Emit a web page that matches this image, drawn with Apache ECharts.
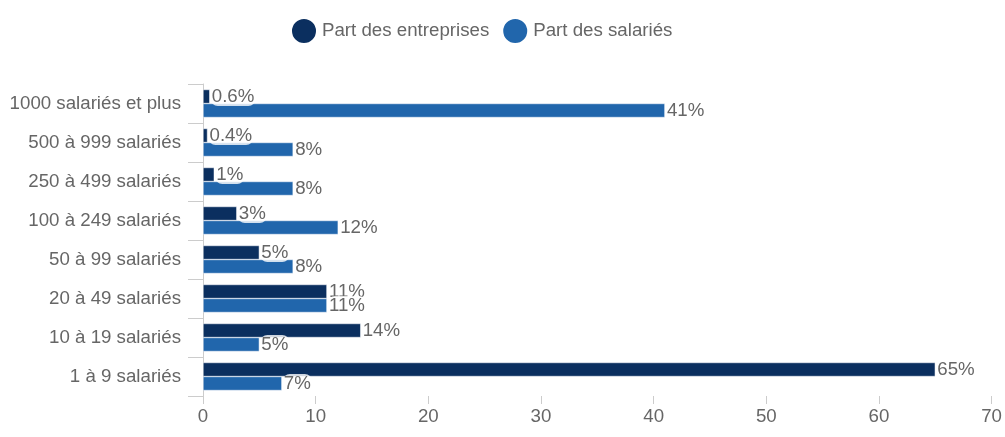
<!DOCTYPE html>
<html>
<head>
<meta charset="utf-8">
<script src="https://cdn.jsdelivr.net/npm/echarts@6/dist/echarts.min.js"></script>
<style>
  html, body { margin: 0; padding: 0; background: #fff; }
  #chart { width: 1005px; height: 437px; }
</style>
</head>
<body>
<div id="chart"></div>
<script>
// tranches de taille, de haut en bas
const categories = [
  '1000 salariés et plus',
  '500 à 999 salariés',
  '250 à 499 salariés',
  '100 à 249 salariés',
  '50 à 99 salariés',
  '20 à 49 salariés',
  '10 à 19 salariés',
  '1 à 9 salariés'
]
const partEntreprises = [0.6, 0.4, 1, 3, 5, 11, 14, 65]
const partSalaries = [41, 8, 8, 12, 8, 11, 5, 7]
const xTicks = { min: 0, max: 70, interval: 10 }

const font = '"Liberation Sans", Arial, sans-serif'
const size = 18.7

const labelStyle = {
  show: true,
  position: 'right',
  distance: 1,
  formatter: p => p.value + '%',
  color: '#666',
  fontSize: size,
  fontFamily: font,
  backgroundColor: 'rgba(255,255,255,0.8)',
  borderRadius: 7,
  padding: [0, 1]
}

const chart = echarts.init(document.getElementById('chart'))
chart.setOption({
  animation: false,
  textStyle: { fontFamily: font },
  color: ['#0b2f5f', '#2166ac'],
  legend: {
    top: 12,
    left: 285,
    icon: 'circle',
    itemWidth: 26,
    itemHeight: 26,
    itemGap: 12,
    textStyle: { color: '#666', fontSize: size, fontFamily: font },
    data: ['Part des entreprises', 'Part des salariés']
  },
  grid: { left: 203, right: 13, top: 84, bottom: 41 },
  xAxis: {
    type: 'value',
    min: xTicks.min,
    max: xTicks.max,
    interval: xTicks.interval,
    axisLine: { show: false },
    axisTick: { show: true, length: 8, lineStyle: { color: '#ccc' } },
    splitLine: { show: false },
    axisLabel: { color: '#666', fontSize: size, margin: 11, fontFamily: font }
  },
  yAxis: {
    type: 'category',
    inverse: true,
    data: categories,
    axisLine: { show: true, lineStyle: { color: '#ccc' } },
    axisTick: { show: true, length: 15, lineStyle: { color: '#ccc' } },
    axisLabel: { color: '#666', fontSize: size, margin: 22, fontFamily: font }
  },
  series: [
    {
      name: 'Part des entreprises',
      type: 'bar',
      barWidth: 14,
      barGap: '0%',
      itemStyle: { borderColor: '#fff', borderWidth: 0.5 },
      label: labelStyle,
      data: partEntreprises
    },
    {
      name: 'Part des salariés',
      type: 'bar',
      barWidth: 14,
      barGap: '0%',
      itemStyle: { borderColor: '#fff', borderWidth: 0.5 },
      label: labelStyle,
      data: partSalaries
    }
  ]
})
</script>
</body>
</html>
